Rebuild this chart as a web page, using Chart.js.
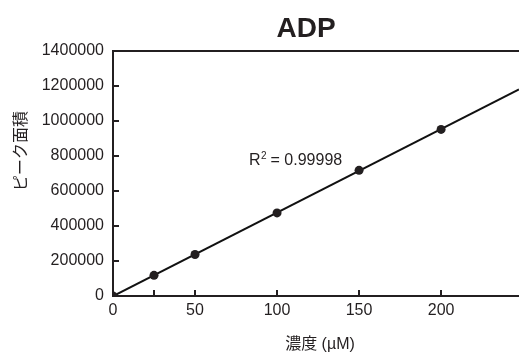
<!DOCTYPE html>
<html>
<head>
<meta charset="utf-8">
<script src="https://cdn.jsdelivr.net/npm/chart.js@4/dist/chart.umd.min.js"></script>
<style>
  html, body { margin: 0; padding: 0; background: #fff; overflow: hidden; }
  #wrap { width: 519px; height: 356px; }
</style>
</head>
<body>
<div id="wrap"><canvas id="c" width="519" height="356"></canvas></div>
<script>
// ---- data ----
const chartTitle = 'ADP';
const xAxisTitle = '濃度 (µM)';
const yAxisTitle = 'ピーク面積';
const concentrations = [0, 25, 50, 100, 150, 200];
const peakAreas = [0, 118000, 237000, 475000, 718000, 952000];
const xTickValues = [0, 25, 50, 100, 150, 200];
const xTickLabels = ['0', '', '50', '100', '150', '200'];
const yTickValues = [0, 200000, 400000, 600000, 800000, 1000000, 1200000, 1400000];
const yTickLabels = ['0', '200000', '400000', '600000', '800000', '1000000', '1200000', '1400000'];
const r2Prefix = 'R';
const r2Sup = '2';
const r2Value = ' = 0.99998';
const xMin = 0, xMax = 247.5, yMin = 0, yMax = 1400000;

// least squares fit from the data
const n = concentrations.length;
const mx = concentrations.reduce((a, b) => a + b, 0) / n;
const my = peakAreas.reduce((a, b) => a + b, 0) / n;
let sxy = 0, sxx = 0;
for (let i = 0; i < n; i++) { sxy += (concentrations[i] - mx) * (peakAreas[i] - my); sxx += (concentrations[i] - mx) ** 2; }
const slope = sxy / sxx, intercept = my - slope * mx;
const fitLine = [{ x: xMin, y: intercept + slope * xMin }, { x: xMax, y: intercept + slope * xMax }];
const points = concentrations.map((x, i) => ({ x, y: peakAreas[i] }));

const ink = '#231f20';
const latin = '"Liberation Sans", Arial, Helvetica, sans-serif';

const decor = {
  id: 'decor',
  afterDraw(chart) {
    const { ctx, chartArea: a, scales } = chart;
    const xs = scales.x, ys = scales.y;
    ctx.save();
    ctx.strokeStyle = ink;
    ctx.lineWidth = 2;
    // top border
    ctx.beginPath();
    ctx.moveTo(a.left - 1, a.top);
    ctx.lineTo(a.right, a.top);
    ctx.stroke();
    // inward ticks
    ctx.beginPath();
    xTickValues.forEach(v => {
      if (v === xMin) return;
      const px = Math.round(xs.getPixelForValue(v));
      ctx.moveTo(px, a.bottom);
      ctx.lineTo(px, a.bottom - 6);
    });
    yTickValues.forEach(v => {
      if (v === yMin || v === yMax) return;
      const py = Math.round(ys.getPixelForValue(v));
      ctx.moveTo(a.left, py);
      ctx.lineTo(a.left + 6, py);
    });
    ctx.stroke();

    ctx.fillStyle = ink;
    // title
    ctx.font = 'bold 28px ' + latin;
    ctx.textAlign = 'center';
    ctx.textBaseline = 'alphabetic';
    ctx.fillText(chartTitle, 306, 37);
    // x title
    ctx.font = '16px ' + latin + ', "Noto Sans CJK JP"';
    ctx.fillText(xAxisTitle, 320, 349);
    // y title
    ctx.save();
    ctx.translate(26, 151);
    ctx.rotate(-Math.PI / 2);
    ctx.font = '16px "Noto Sans CJK JP", sans-serif';
    ctx.textAlign = 'center';
    ctx.fillText(yAxisTitle, 0, 0);
    ctx.restore();
    // R^2 label
    ctx.textAlign = 'left';
    ctx.font = '16px ' + latin;
    let x0 = 249;
    const base = 165;
    ctx.fillText(r2Prefix, x0, base);
    x0 += ctx.measureText(r2Prefix).width;
    ctx.font = '10px ' + latin;
    ctx.fillText(r2Sup, x0 + 0.5, base - 6);
    x0 += ctx.measureText(r2Sup).width;
    ctx.font = '16px ' + latin;
    ctx.fillText(r2Value, x0, base);
    ctx.restore();
  }
};

new Chart(document.getElementById('c'), {
  type: 'scatter',
  data: {
    datasets: [
      {
        label: 'data',
        data: points,
        pointRadius: 4.5,
        pointHoverRadius: 4.5,
        backgroundColor: ink,
        borderColor: ink,
        borderWidth: 0,
        showLine: false
      },
      {
        label: 'fit',
        data: fitLine,
        showLine: true,
        borderColor: '#111',
        borderWidth: 2,
        pointRadius: 0,
        fill: false
      }
    ]
  },
  options: {
    responsive: false,
    animation: false,
    events: [],
    layout: { autoPadding: false, padding: { top: 51, left: 0, right: 0, bottom: 0 } },
    plugins: { legend: { display: false }, tooltip: { enabled: false }, title: { display: false } },
    scales: {
      x: {
        type: 'linear',
        min: xMin,
        max: xMax,
        grid: { display: false, drawTicks: false },
        border: { display: true, color: ink, width: 2 },
        afterBuildTicks: s => { s.ticks = xTickValues.map(v => ({ value: v })); },
        afterFit: s => { s.height = 60; s.paddingLeft = 0; s.paddingRight = 0; },
        ticks: {
          color: ink,
          font: { family: latin, size: 16 },
          padding: 5,
          maxRotation: 0,
          autoSkip: false,
          callback: (v) => { const i = xTickValues.indexOf(v); return i >= 0 ? xTickLabels[i] : ''; }
        }
      },
      y: {
        type: 'linear',
        min: yMin,
        max: yMax,
        grid: { display: false, drawTicks: false },
        border: { display: true, color: ink, width: 2 },
        afterBuildTicks: s => { s.ticks = yTickValues.map(v => ({ value: v })); },
        afterFit: s => { s.width = 113; s.paddingTop = 0; s.paddingBottom = 0; },
        ticks: {
          color: ink,
          font: { family: latin, size: 16 },
          padding: 9,
          autoSkip: false,
          callback: (v) => { const i = yTickValues.indexOf(v); return i >= 0 ? yTickLabels[i] : ''; }
        }
      }
    }
  },
  plugins: [decor]
});
</script>
</body>
</html>
